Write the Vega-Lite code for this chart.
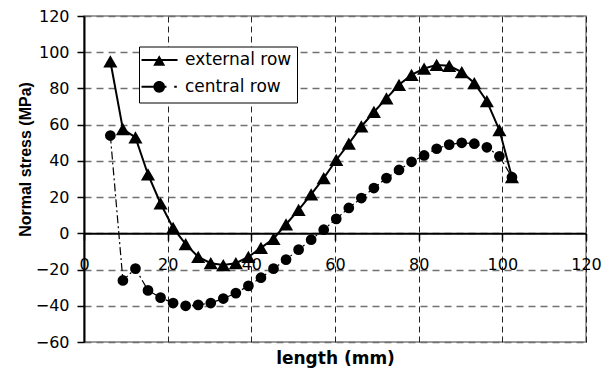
{
  "$schema": "https://vega.github.io/schema/vega-lite/v6.json",
  "autosize": "none",
  "width": 502,
  "height": 326,
  "padding": {"left": 84, "top": 16, "right": 27, "bottom": 29},
  "background": "white",
  "config": {
    "view": {"stroke": "#808080", "strokeWidth": 1.5},
    "axis": {"labelColor": "black", "titleColor": "black", "labelFont": "DejaVu Sans", "labelFontSize": 16, "labelFlush": false, "labelOverlap": false}
  },
  "datasets": {
    "stress": [
      {"series": "external row", "x": 6.3, "y": 95},
      {"series": "external row", "x": 9.3, "y": 57.5},
      {"series": "external row", "x": 12.3, "y": 53},
      {"series": "external row", "x": 15.3, "y": 32.5},
      {"series": "external row", "x": 18.3, "y": 16.5},
      {"series": "external row", "x": 21.3, "y": 3},
      {"series": "external row", "x": 24.3, "y": -6},
      {"series": "external row", "x": 27.3, "y": -13},
      {"series": "external row", "x": 30.3, "y": -16.5},
      {"series": "external row", "x": 33.3, "y": -17.5},
      {"series": "external row", "x": 36.3, "y": -16.5},
      {"series": "external row", "x": 39.3, "y": -13},
      {"series": "external row", "x": 42.3, "y": -8},
      {"series": "external row", "x": 45.3, "y": -3},
      {"series": "external row", "x": 48.3, "y": 5},
      {"series": "external row", "x": 51.3, "y": 13},
      {"series": "external row", "x": 54.3, "y": 21.5},
      {"series": "external row", "x": 57.3, "y": 30.5},
      {"series": "external row", "x": 60.3, "y": 40.5},
      {"series": "external row", "x": 63.3, "y": 49.5},
      {"series": "external row", "x": 66.3, "y": 59},
      {"series": "external row", "x": 69.3, "y": 67},
      {"series": "external row", "x": 72.3, "y": 74.5},
      {"series": "external row", "x": 75.3, "y": 82},
      {"series": "external row", "x": 78.3, "y": 87.5},
      {"series": "external row", "x": 81.3, "y": 91},
      {"series": "external row", "x": 84.3, "y": 93},
      {"series": "external row", "x": 87.3, "y": 92.5},
      {"series": "external row", "x": 90.3, "y": 89},
      {"series": "external row", "x": 93.3, "y": 83},
      {"series": "external row", "x": 96.3, "y": 73},
      {"series": "external row", "x": 99.3, "y": 57},
      {"series": "external row", "x": 102.3, "y": 31},
      {"series": "central row", "x": 6.3, "y": 54},
      {"series": "central row", "x": 9.3, "y": -26},
      {"series": "central row", "x": 12.3, "y": -19.5},
      {"series": "central row", "x": 15.3, "y": -31.5},
      {"series": "central row", "x": 18.3, "y": -35.5},
      {"series": "central row", "x": 21.3, "y": -38.5},
      {"series": "central row", "x": 24.3, "y": -40},
      {"series": "central row", "x": 27.3, "y": -39.5},
      {"series": "central row", "x": 30.3, "y": -38.5},
      {"series": "central row", "x": 33.3, "y": -36},
      {"series": "central row", "x": 36.3, "y": -33},
      {"series": "central row", "x": 39.3, "y": -29},
      {"series": "central row", "x": 42.3, "y": -24.5},
      {"series": "central row", "x": 45.3, "y": -19.5},
      {"series": "central row", "x": 48.3, "y": -14.5},
      {"series": "central row", "x": 51.3, "y": -9},
      {"series": "central row", "x": 54.3, "y": -3.5},
      {"series": "central row", "x": 57.3, "y": 2},
      {"series": "central row", "x": 60.3, "y": 8},
      {"series": "central row", "x": 63.3, "y": 14},
      {"series": "central row", "x": 66.3, "y": 19.5},
      {"series": "central row", "x": 69.3, "y": 25},
      {"series": "central row", "x": 72.3, "y": 30.5},
      {"series": "central row", "x": 75.3, "y": 35},
      {"series": "central row", "x": 78.3, "y": 39.5},
      {"series": "central row", "x": 81.3, "y": 43},
      {"series": "central row", "x": 84.3, "y": 46.7},
      {"series": "central row", "x": 87.3, "y": 49},
      {"series": "central row", "x": 90.3, "y": 50},
      {"series": "central row", "x": 93.3, "y": 49.5},
      {"series": "central row", "x": 96.3, "y": 47.5},
      {"series": "central row", "x": 99.3, "y": 42.5},
      {"series": "central row", "x": 102.3, "y": 31}
    ]
  },
  "data": {"name": "stress"},
  "encoding": {
    "x": {
      "field": "x", "type": "quantitative",
      "scale": {"domain": [0, 120], "nice": false, "zero": false},
      "axis": {
        "values": [0, 20, 40, 60, 80, 100, 120],
        "offset": -108.67,
        "domainColor": "black", "domainWidth": 2,
        "tickColor": "black", "tickWidth": 1.5, "tickSize": 7,
        "labelPadding": 16,
        "grid": true, "gridColor": "#222222", "gridDash": [6, 4], "gridWidth": 1,
        "title": "length (mm)", "titleFont": "DejaVu Sans", "titleFontSize": 17, "titleFontWeight": "bold",
        "titleX": 251, "titleY": 124.7, "titleBaseline": "middle"
      }
    },
    "y": {
      "field": "y", "type": "quantitative",
      "scale": {"domain": [-60, 120], "nice": false, "zero": false},
      "axis": {
        "values": [-60, -40, -20, 0, 20, 40, 60, 80, 100, 120],
        "domainColor": "black", "domainWidth": 2,
        "tickColor": "black", "tickWidth": 1.5, "tickSize": 7,
        "labelPadding": 8,
        "grid": true, "gridColor": "#707070", "gridDash": [7, 5], "gridWidth": 1.3,
        "title": "Normal stress (MPa)", "titleFont": "Liberation Sans", "titleFontSize": 16, "titleFontWeight": "bold",
        "titleX": -59, "titleY": 143, "titleBaseline": "middle", "titleAlign": "center", "titleAngle": -90
      }
    }
  },
  "layer": [
    {
      "transform": [{"filter": "datum.series === 'external row'"}],
      "mark": {"type": "line", "color": "black", "strokeWidth": 2},
      "encoding": {"order": {"field": "x", "type": "quantitative"}}
    },
    {
      "transform": [{"filter": "datum.series === 'central row'"}],
      "mark": {"type": "line", "color": "black", "strokeWidth": 1.2, "strokeDash": [8, 3, 2, 3]},
      "encoding": {"order": {"field": "x", "type": "quantitative"}}
    },
    {
      "mark": {"type": "point", "filled": true, "color": "black", "opacity": 1},
      "encoding": {
        "shape": {
          "field": "series", "type": "nominal",
          "scale": {"domain": ["external row", "central row"], "range": ["triangle-up", "circle"]},
          "legend": null
        },
        "size": {
          "condition": {"test": "datum.series === 'external row'", "value": 200},
          "value": 115
        }
      }
    },
    {
      "transform": [{"filter": "datum.x < -1000"}],
      "mark": {"type": "point", "filled": true, "color": "black", "opacity": 1},
      "encoding": {
        "shape": {
          "field": "series", "type": "nominal",
          "scale": {
            "domain": ["external row", "central row"],
            "range": [
              "M-1.83,-0.16L4.17,-0.16L4.17,0.16L-1.83,0.16ZM1.12,-0.8L2.12,0.95L0.12,0.95Z",
              "M-1.83,-0.16L2.33,-0.16L2.33,0.16L-1.83,0.16ZM3.62,-0.16L4.05,-0.16L4.05,0.16L3.62,0.16ZM2.1,0A0.98,0.98 0 1,1 0.14,0A0.98,0.98 0 1,1 2.1,0Z"
            ]
          },
          "legend": {
            "orient": "none", "legendX": 55, "legendY": 30.5, "title": null,
            "padding": 5, "rowPadding": 5.8,
            "labelFont": "DejaVu Sans", "labelFontSize": 17, "labelColor": "black", "labelOffset": 24, "labelLimit": 300,
            "symbolSize": 144, "symbolStrokeWidth": 2,
            "strokeColor": "#000000", "fillColor": "#ffffff"
          }
        }
      }
    }
  ],
  "resolve": {"scale": {"shape": "independent"}, "legend": {"shape": "independent"}}
}
